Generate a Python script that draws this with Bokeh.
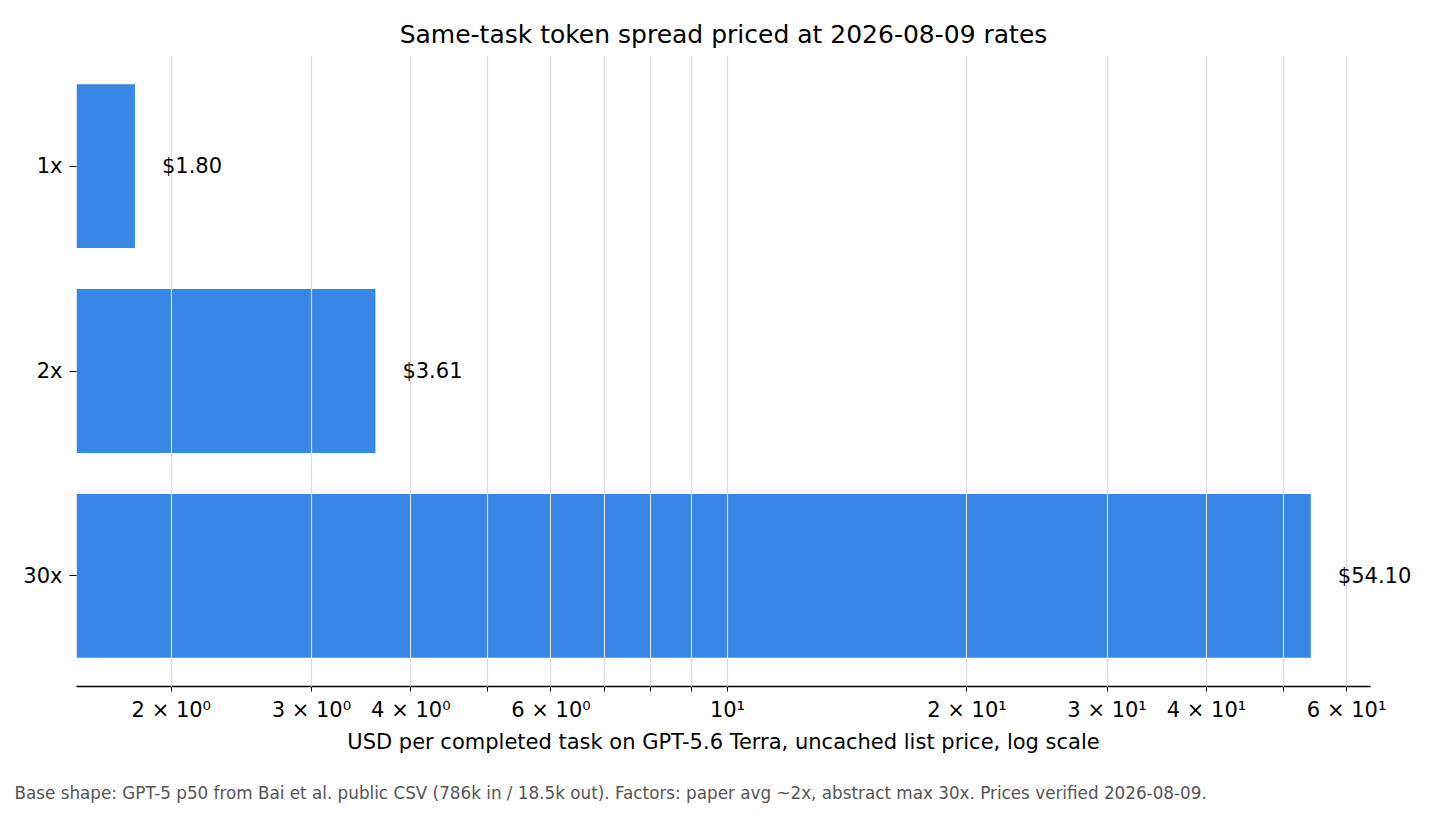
from bokeh.core.properties import value
from bokeh.embed import file_html
from bokeh.models import ColumnDataSource, FixedTicker, Range1d, Title
from bokeh.plotting import figure
from bokeh.resources import INLINE

# data
factors = ["1x", "2x", "30x"]
costs = [1.80, 3.61, 54.10]
cost_labels = ["$1.80", "$3.61", "$54.10"]

x_major = [2, 3, 4, 6, 10, 20, 30, 40, 60]
x_major_labels = ["2 × 10⁰", "3 × 10⁰", "4 × 10⁰", "6 × 10⁰", "10¹",
                  "2 × 10¹", "3 × 10¹", "4 × 10¹", "6 × 10¹"]
x_minor = [5, 7, 8, 9, 50]

x_start, x_end = 1.52, 64.3

FONT = "DejaVu Sans"

src = ColumnDataSource(dict(
    pos=list(range(len(factors))),
    cost=costs,
    label=cost_labels,
))

p = figure(
    width=1424, height=803,
    x_axis_type="log",
    x_range=Range1d(x_start, x_end),
    y_range=Range1d(len(factors) - 1 + 0.54, -0.54),
    output_backend="svg",
    toolbar_location=None,
    min_border_left=76, min_border_right=54,
    min_border_top=55, min_border_bottom=117,
)
p.outline_line_color = None

p.title.text = "Same-task token spread priced at 2026-08-09 rates"
p.title.text_font = FONT
p.title.text_font_size = "25px"
p.title.text_font_style = "normal"
p.title.text_color = "black"
p.title.align = "center"
p.title.standoff = 13

# bars
p.hbar(y="pos", left=x_start, right="cost", height=0.8, source=src,
       fill_color="#3987e5", line_color=None)

# value labels
p.text(x="cost", y="pos", text="label", source=src, x_offset=27,
       text_baseline="middle", text_align="left", text_font=value(FONT),
       text_font_size="21px", text_color="black", level="annotation")

# x axis
xa = p.xaxis[0]
xa.ticker = FixedTicker(ticks=x_major, minor_ticks=x_minor)
xa.major_label_overrides = dict(zip(x_major, x_major_labels))
xa.axis_label = "USD per completed task on GPT-5.6 Terra, uncached list price, log scale"
xa.axis_label_text_font = FONT
xa.axis_label_text_font_size = "21px"
xa.axis_label_text_font_style = "normal"
xa.axis_label_text_color = "black"
xa.axis_label_standoff = 5
xa.major_label_text_font = FONT
xa.major_label_text_font_size = "21px"
xa.major_label_text_color = "black"
xa.major_label_standoff = 6
xa.major_tick_out = 5
xa.major_tick_in = 0
xa.minor_tick_out = 5
xa.minor_tick_in = 0
xa.axis_line_color = "black"
xa.axis_line_width = 1.3

# y axis
ya = p.yaxis[0]
ya.ticker = FixedTicker(ticks=list(range(len(factors))))
ya.major_label_overrides = {i: f for i, f in enumerate(factors)}
ya.major_label_text_font = FONT
ya.major_label_text_font_size = "21px"
ya.major_label_text_color = "black"
ya.major_label_standoff = 7
ya.major_tick_out = 7
ya.major_tick_in = 0
ya.minor_tick_line_color = None
ya.axis_line_color = None

# grid on top of the bars
p.ygrid.grid_line_color = None
p.xgrid.grid_line_color = "#dddddd"
p.xgrid.minor_grid_line_color = "#dddddd"
p.xgrid.grid_line_width = 1.2
p.xgrid.minor_grid_line_width = 1.2
p.xgrid.level = "guide"

# blank spacer between the axis label and the footnote
p.add_layout(Title(text=" ", text_font_size="20px", standoff=0), "below")

# footnote
p.add_layout(Title(
    text="Base shape: GPT-5 p50 from Bai et al. public CSV (786k in / 18.5k out). "
         "Factors: paper avg ~2x, abstract max 30x. Prices verified 2026-08-09.",
    align="left", offset=-62, standoff=0,
    text_font=FONT, text_font_size="16.8px", text_font_style="normal",
    text_color="#555555",
), "below")

open("out.html", "w").write(file_html(p, INLINE))
